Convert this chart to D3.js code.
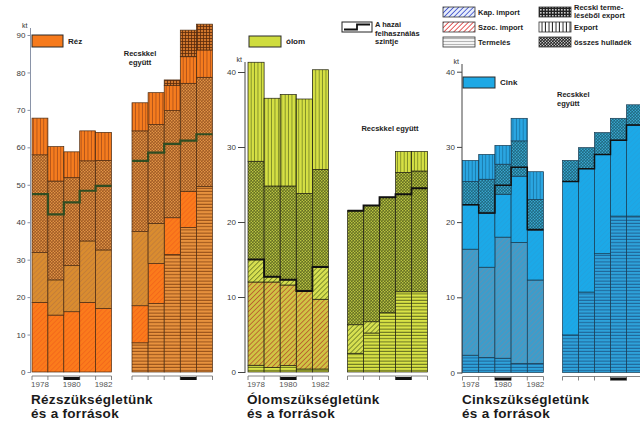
<!DOCTYPE html>
<html>
<head>
<meta charset="utf-8">
<script src="https://cdn.jsdelivr.net/npm/d3@7"></script>
<style>
body { margin: 0; background: #fff; }
svg { display: block; font-family: "Liberation Sans", Arial, sans-serif; }
</style>
</head>
<body>
<svg width="640" height="421"></svg>
<script>
const width = 640, height = 421;

const years = ["1978", "1979", "1980", "1981", "1982"];
const yearLabels = ["1978", "", "1980", "", "1982"];
const layerKeys = ["termeles", "szoc", "kap", "hulladek", "export", "recsk"];
const cuTicks = [0, 10, 20, 30, 40, 50, 60, 70, 80, 90];
const pbTicks = [0, 10, 20, 30, 40];
const znTicks = [0, 10, 20, 30, 40];

// rows follow layerKeys: termelés, szoc. import, kap. import, összes hulladék, export, recski export (kt)
const rezAlone = [
  [0, 0, 0, 0, 0],
  [18.6, 15.2, 16.1, 18.6, 17.0],
  [13.3, 9.4, 12.3, 16.4, 15.6],
  [26.1, 26.4, 23.5, 21.4, 23.9],
  [9.8, 9.2, 6.9, 8.0, 7.5],
  [0, 0, 0, 0, 0]
];
const rezAloneLevel = [47.5, 42.1, 45.3, 48.4, 49.7];

const rezRecsk = [
  [7.8, 18.3, 31.4, 38.6, 49.5],
  [9.9, 10.7, 9.8, 9.6, 0],
  [19.8, 10.7, 0, 0, 0],
  [26.9, 26.4, 28.6, 28.9, 29.2],
  [7.5, 8.5, 6.7, 7.1, 7.3],
  [0, 0, 1.5, 7.1, 6.9]
];
const rezRecskLevel = [56.4, 58.6, 60.9, 61.8, 63.5];

const olomAlone = [
  [0.9, 0.6, 0.85, 0.4, 0.4],
  [11.1, 11.4, 10.75, 10.4, 9.3],
  [3.0, 0.7, 0.7, 0, 4.3],
  [13.1, 12.1, 12.5, 13.0, 13.0],
  [13.2, 11.7, 12.2, 12.6, 13.3],
  [0, 0, 0, 0, 0]
];
const olomAloneLevel = [15.0, 12.7, 12.3, 10.8, 14.0];

const olomRecsk = [
  [2.5, 5.2, 7.9, 10.7, 10.7],
  [0, 0, 0, 0, 0],
  [3.8, 1.5, 0, 0, 0],
  [15.2, 15.5, 15.4, 15.9, 16.1],
  [0, 0, 0, 2.8, 2.6],
  [0, 0, 0, 0, 0]
];
const olomRecskLevel = [21.5, 22.2, 23.3, 23.7, 24.5];

const cinkAlone = [
  [2.3, 2.0, 1.9, 1.2, 1.2],
  [14.1, 12.0, 16.1, 16.1, 11.1],
  [5.9, 7.2, 5.7, 8.8, 6.6],
  [3.1, 4.5, 4.0, 4.7, 4.1],
  [2.8, 3.3, 2.5, 3.0, 3.7],
  [0, 0, 0, 0, 0]
];
const cinkAloneLevel = [22.3, 21.2, 24.9, 27.3, 19.0];

const cinkRecsk = [
  [5.0, 10.7, 15.8, 20.8, 20.8],
  [0, 0, 0, 0, 0],
  [20.4, 16.4, 13.2, 10.1, 12.1],
  [2.8, 2.8, 2.9, 2.9, 2.7],
  [0, 0, 0, 0, 0],
  [0, 0, 0, 0, 0]
];
const cinkRecskLevel = [25.4, 27.1, 29.0, 30.9, 32.9];

const svg = d3.select("svg");
const defs = svg.append("defs");

// fill pattern helpers
function pat(id, w, h, bg, draw, rot) {
  const p = defs.append("pattern").attr("id", id)
    .attr("patternUnits", "userSpaceOnUse").attr("width", w).attr("height", h);
  if (rot) p.attr("patternTransform", "rotate(" + rot + ")");
  p.append("rect").attr("width", w).attr("height", h).attr("fill", bg);
  draw(p);
}
function makeSet(id, c) {
  pat(id + "-termeles", 4, 3.2, c.term, p => p.append("rect").attr("y", 2.2).attr("width", 4).attr("height", 0.9).attr("fill", c.termLine));
  pat(id + "-szoc", 3.5, 3.5, c.szoc, p => p.append("rect").attr("width", 0.8).attr("height", 3.5).attr("fill", c.szocLine), 45);
  pat(id + "-kap", 3.5, 3.5, c.kap, p => p.append("rect").attr("width", 0.8).attr("height", 3.5).attr("fill", c.kapLine), 45);
  pat(id + "-hulladek", 3, 3, c.scrap, p => {
    p.append("circle").attr("cx", 0.75).attr("cy", 0.75).attr("r", 0.75).attr("fill", c.scrapDot);
    p.append("circle").attr("cx", 2.25).attr("cy", 2.25).attr("r", 0.75).attr("fill", c.scrapDot);
  });
  pat(id + "-export", 3.4, 4, c.exp, p => p.append("rect").attr("x", 2.5).attr("width", 0.9).attr("height", 4).attr("fill", c.expLine));
  pat(id + "-recsk", 3, 3, c.recsk, p => {
    p.append("rect").attr("y", 2.2).attr("width", 3).attr("height", 0.8).attr("fill", c.recskLine);
    p.append("rect").attr("x", 2.2).attr("width", 0.8).attr("height", 3).attr("fill", c.recskLine);
  });
}

makeSet("cu", {term: "#e8923e", termLine: "#8a4512", szoc: "#fb7b1b", szocLine: "#f3651c", kap: "#d98c2f", kapLine: "#c27c3a",
  scrap: "#a05a24", scrapDot: "#eea04c", exp: "#f67c1e", expLine: "#b0521a", recsk: "#d0762c", recskLine: "#5a2a0a"});
makeSet("pb", {term: "#d9e346", termLine: "#56601a", szoc: "#cfc444", szocLine: "#b8562c", kap: "#d6df50", kapLine: "#6a7a24",
  scrap: "#646e22", scrapDot: "#cbd648", exp: "#d6e044", expLine: "#7c8a26", recsk: "#b8c040", recskLine: "#3a4010"});
makeSet("zn", {term: "#2ea2da", termLine: "#1d5a8c", szoc: "#3c9dcb", szocLine: "#6390b2", kap: "#1ba9e8", kapLine: "#22a2de",
  scrap: "#1f6880", scrapDot: "#3db2de", exp: "#2aa6e2", expLine: "#1a78a8", recsk: "#1d6178", recskLine: "#0a2a3a"});

const panels = [
  {id: "cu", yMax: 90, y0: 372, yTop: 35, ticks: cuTicks, axisX: 30.5, axisTop: 28, tickLen: 3, axisColor: "#8a94a8",
   stroke: "#4a2a10", lineColor: "#2f4d22", lineW: 2.2,
   groups: [
     {range: [32, 111.5], data: rezAlone, level: rezAloneLevel, marker: 2, labels: true},
     {range: [132, 212.5], data: rezRecsk, level: rezRecskLevel, marker: 3, labels: false}
   ]},
  {id: "pb", yMax: 40, y0: 372, yTop: 72, ticks: pbTicks, axisX: 245, axisTop: 62, tickLen: 7, axisColor: "#444",
   stroke: "#1e1e10", lineColor: "#111", lineW: 1.8,
   groups: [
     {range: [248, 328.5], data: olomAlone, level: olomAloneLevel, marker: 2, labels: true},
     {range: [347.5, 427.5], data: olomRecsk, level: olomRecskLevel, marker: 3, labels: false}
   ]},
  {id: "zn", yMax: 40, y0: 372.5, yTop: 71.7, ticks: znTicks, axisX: 462, axisTop: 64, tickLen: 5, axisColor: "#444",
   stroke: "#163a50", lineColor: "#111", lineW: 1.5,
   groups: [
     {range: [462.5, 543.5], data: cinkAlone, level: cinkAloneLevel, marker: 2, labels: true},
     {range: [562.5, 642.5], data: cinkRecsk, level: cinkRecskLevel, marker: 3, labels: false}
   ]}
];

panels.forEach(pn => {
  const y = d3.scaleLinear().domain([0, pn.yMax]).range([pn.y0, pn.yTop]);

  const ag = svg.append("g").attr("transform", "translate(" + pn.axisX + ",0)")
    .call(d3.axisLeft(y).tickValues(pn.ticks).tickSize(pn.tickLen).tickPadding(2).tickFormat(d3.format("d")));
  ag.select(".domain").remove();
  ag.selectAll(".tick line").attr("stroke", pn.axisColor);
  ag.selectAll(".tick text").attr("fill", "#3a3a3a").attr("font-size", 8).attr("font-family", "Liberation Sans, Arial");
  ag.append("line").attr("y1", pn.y0 + 1).attr("y2", pn.axisTop).attr("stroke", pn.axisColor).attr("stroke-width", 1);
  ag.append("text").attr("x", -3).attr("y", pn.axisTop).attr("font-size", 7).attr("fill", "#333").text("kt");

  pn.groups.forEach(gr => {
    const x = d3.scaleBand().domain(years).range(gr.range);
    const table = years.map((yr, i) => {
      const o = {year: yr};
      layerKeys.forEach((k, j) => { o[k] = gr.data[j][i]; });
      return o;
    });
    const series = d3.stack().keys(layerKeys)(table);
    const g = svg.append("g");

    series.forEach(s => {
      g.selectAll(null).data(s.filter(d => d[1] - d[0] > 0)).join("rect")
        .attr("x", d => x(d.data.year)).attr("width", x.bandwidth())
        .attr("y", d => y(d[1])).attr("height", d => y(d[0]) - y(d[1]))
        .attr("fill", "url(#" + pn.id + "-" + s.key + ")")
        .attr("stroke", pn.stroke).attr("stroke-width", 0.7);
    });

    // domestic consumption level step line
    const pts = [];
    gr.level.forEach((v, i) => {
      pts.push([x(years[i]), v]);
      pts.push([x(years[i]) + x.bandwidth(), v]);
    });
    g.append("path").datum(pts)
      .attr("d", d3.line().x(d => d[0]).y(d => y(d[1])))
      .attr("fill", "none").attr("stroke", pn.lineColor).attr("stroke-width", pn.lineW);

    // x axis
    const xa = svg.append("g").attr("transform", "translate(0," + (pn.y0 + 4) + ")");
    xa.append("line").attr("x1", gr.range[0]).attr("x2", gr.range[1]).attr("stroke", "#666").attr("stroke-width", 0.8);
    const edges = years.map(d => x(d)).concat([gr.range[1]]);
    xa.selectAll(null).data(edges).join("line")
      .attr("x1", d => d).attr("x2", d => d).attr("y1", 0).attr("y2", 4)
      .attr("stroke", "#666").attr("stroke-width", 0.8);
    xa.append("rect").attr("x", x(years[gr.marker])).attr("y", 1)
      .attr("width", x.bandwidth()).attr("height", 3).attr("fill", "#111");
    if (gr.labels) {
      const lab = xa.append("g").attr("transform", "translate(0,3)")
        .call(d3.axisBottom(x).tickSize(0).tickPadding(2).tickFormat((d, i) => yearLabels[i]));
      lab.select(".domain").remove();
      lab.selectAll("text").attr("font-size", 8).attr("fill", "#555").attr("font-family", "Liberation Sans Narrow, Liberation Sans, Arial");
    }
  });
});

// metal legends
const metalLegend = [
  {x: 32, y: 35, w: 31, h: 12, fill: "#f67a1c", text: "Réz"},
  {x: 249, y: 36, w: 32, h: 11, fill: "#cfdc3e", text: "ólom"},
  {x: 463, y: 77, w: 32, h: 11, fill: "#1ea8e4", text: "Cink"}
];
metalLegend.forEach(m => {
  svg.append("rect").attr("x", m.x).attr("y", m.y).attr("width", m.w).attr("height", m.h)
    .attr("fill", m.fill).attr("stroke", "#2a2a2a").attr("stroke-width", 1);
  svg.append("text").attr("x", m.x + m.w + 5).attr("y", m.y + m.h - 3).attr("font-size", 8)
    .attr("font-weight", "bold").attr("fill", "#222").text(m.text);
});

// "Recskkel együtt" notes
function note(x, y, lines, anchor) {
  const t = svg.append("text").attr("x", x).attr("y", y).attr("font-size", 7.5).attr("font-weight", "bold")
    .attr("fill", "#222").attr("text-anchor", anchor);
  lines.forEach((l, i) => t.append("tspan").attr("x", x).attr("dy", i ? 8.5 : 0).text(l));
}
note(140, 56, ["Recskkel", "együtt"], "middle");
note(390, 131, ["Recskkel együtt"], "middle");
note(557, 97, ["Recskkel", "együtt"], "start");

// pattern legend (top right)
pat("lg-kap", 3.5, 3.5, "#e8eefa", p => p.append("rect").attr("width", 0.9).attr("height", 3.5).attr("fill", "#4a5ad0"), 45);
pat("lg-szoc", 3.5, 3.5, "#fff", p => p.append("rect").attr("width", 0.9).attr("height", 3.5).attr("fill", "#e04848"), 45);
pat("lg-term", 4, 3, "#f4f4f4", p => p.append("rect").attr("y", 2).attr("width", 4).attr("height", 0.7).attr("fill", "#999"));
pat("lg-recsk", 3, 3, "#222", p => p.append("rect").attr("width", 1.6).attr("height", 1.6).attr("fill", "#ccc"));
pat("lg-export", 3.5, 4, "#fff", p => p.append("rect").attr("x", 2.5).attr("width", 1).attr("height", 4).attr("fill", "#222"));
pat("lg-hull", 3, 3, "#222", p => {
  p.append("circle").attr("cx", 0.75).attr("cy", 0.75).attr("r", 0.7).attr("fill", "#eee");
  p.append("circle").attr("cx", 2.25).attr("cy", 2.25).attr("r", 0.7).attr("fill", "#eee");
});
const legendItems = [
  {x: 443, y: 7, fill: "lg-kap", lines: ["Kap. import"]},
  {x: 443, y: 22, fill: "lg-szoc", lines: ["Szoc. import"]},
  {x: 443, y: 37, fill: "lg-term", lines: ["Termelés"]},
  {x: 539, y: 7, fill: "lg-recsk", lines: ["Recski terme-", "léséből export"]},
  {x: 539, y: 22, fill: "lg-export", lines: ["Export"]},
  {x: 539, y: 37, fill: "lg-hull", lines: ["összes hulladék"]}
];
legendItems.forEach(it => {
  svg.append("rect").attr("x", it.x).attr("y", it.y).attr("width", 32).attr("height", 10)
    .attr("fill", "url(#" + it.fill + ")").attr("stroke", "#333").attr("stroke-width", 0.8);
  const t = svg.append("text").attr("font-size", 7.5).attr("fill", "#222").attr("font-weight", "bold");
  if (it.lines.length === 1) {
    t.append("tspan").attr("x", it.x + 35).attr("y", it.y + 8).text(it.lines[0]);
  } else {
    t.append("tspan").attr("x", it.x + 35).attr("y", it.y + 3).text(it.lines[0]);
    t.append("tspan").attr("x", it.x + 35).attr("y", it.y + 11).text(it.lines[1]);
  }
});

// domestic level legend
svg.append("rect").attr("x", 342).attr("y", 22).attr("width", 30).attr("height", 10)
  .attr("fill", "#fff").attr("stroke", "#222").attr("stroke-width", 1);
svg.append("path").attr("d", d3.line()([[344, 29.5], [357, 29.5], [357, 24.5], [370, 24.5]]))
  .attr("fill", "none").attr("stroke", "#111").attr("stroke-width", 1.8);
note(375, 27, ["A hazai", "felhasználás", "szintje"], "start");

// titles
const titles = [
  {x: 31, lines: ["Rézszükségletünk", "és a források"]},
  {x: 247, lines: ["Ólomszükségletünk", "és a források"]},
  {x: 462, lines: ["Cinkszükségletünk", "és a források"]}
];
titles.forEach(tt => {
  const t = svg.append("text").attr("font-size", 13.5).attr("font-weight", "bold").attr("fill", "#1a1a1a")
    .attr("letter-spacing", 0.3);
  tt.lines.forEach((l, i) => t.append("tspan").attr("x", tt.x).attr("y", 404 + i * 13.5).text(l));
});
</script>
</body>
</html>
